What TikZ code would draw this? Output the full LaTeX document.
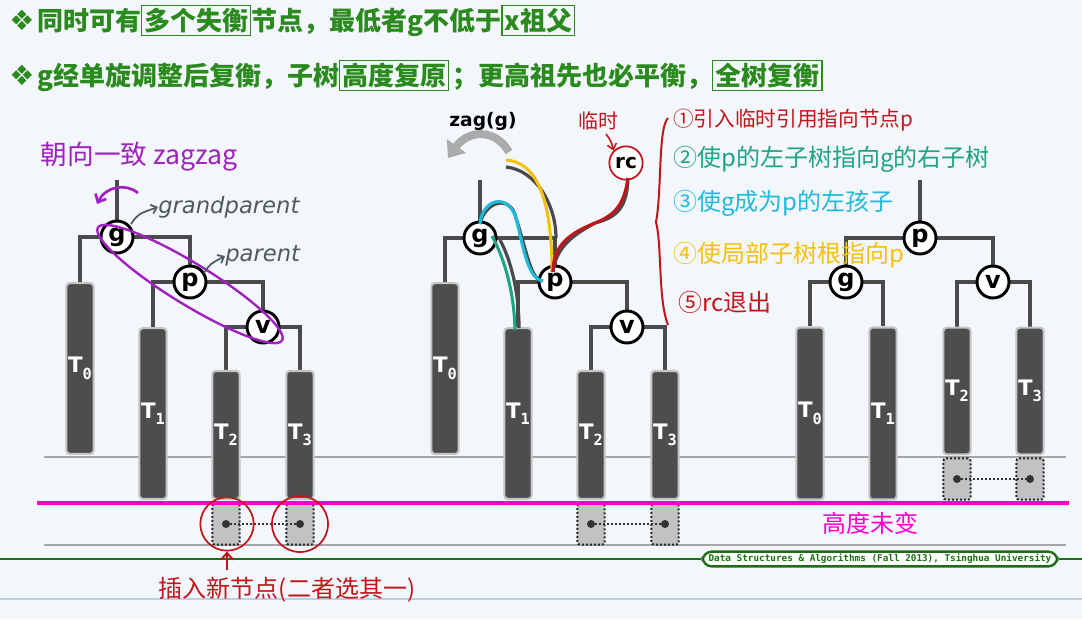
\documentclass[tikz,border=0pt]{standalone}
\usepackage{fontspec}
\setmainfont{DejaVu Sans}
\setsansfont{DejaVu Sans}
\setmonofont{DejaVu Sans Mono}
\newfontfamily\cjk{Noto Sans CJK SC}
\newfontfamily\dv{DejaVu Sans}
\usetikzlibrary{arrows.meta,shapes.geometric}
\definecolor{bgc}{HTML}{F3F7FB}
\definecolor{tgreen}{HTML}{2B8A1E}
\definecolor{fgreen}{HTML}{1D6E14}
\definecolor{colf}{HTML}{4D4D4D}
\definecolor{colb}{HTML}{C4C4C4}
\definecolor{linec}{HTML}{4A4A4A}
\definecolor{glc}{HTML}{A6A6A6}
\definecolor{mag}{HTML}{FF00CC}
\definecolor{hred}{HTML}{C0161B}
\definecolor{hteal}{HTML}{1FA383}
\definecolor{hcyan}{HTML}{1FB9DA}
\definecolor{hyel}{HTML}{F4C10E}
\definecolor{hpur}{HTML}{A020C0}
\definecolor{hgray}{HTML}{4F5B5B}
\definecolor{insf}{HTML}{C2C2C2}
\definecolor{zagc}{HTML}{ABABAB}
\definecolor{lblue}{HTML}{BFD0E2}
\newcommand\gb[1]{{\fboxsep=1.5pt\fboxrule=0.9pt\fbox{#1}}}
\newcommand\Tl[1]{T\raisebox{-0.55ex}{\ttfamily\bfseries\fontsize{11.5}{11.5}\selectfont #1}}
\pgfdeclarelayer{back}
\pgfdeclarelayer{bg}
\pgfsetlayers{back,bg,main}
\begin{document}
\begin{tikzpicture}[x=0.75pt,y=-0.75pt,
  tl/.style={draw=linec, line width=2.6pt},
  gline/.style={draw=glc, line width=2pt},
  col/.style={rectangle, rounded corners=2.5pt, fill=colf, draw=colb, line width=1.6pt,
    minimum width=20.5pt, inner sep=0pt, text=white, font=\sffamily\bfseries\fontsize{16}{16}\selectfont},
  vx/.style={circle, draw=black, line width=2.2pt, fill=white, minimum size=24pt, inner sep=0pt,
    font=\sffamily\bfseries\fontsize{18}{18}\selectfont},
  insb/.style={rectangle, draw=black!85, line width=1.4pt, dash pattern=on 1.5pt off 1.5pt,
    fill=insf, rounded corners=2pt, minimum width=20.5pt, minimum height=31pt, inner sep=0pt},
  dotn/.style={circle, fill=black!80, minimum size=6pt, inner sep=0pt},
  dl/.style={draw=black!80, line width=1.4pt, dash pattern=on 1.5pt off 1.5pt},
  hw/.style={font=\cjk\fontsize{18}{20}\selectfont, inner sep=0pt, anchor=west},
  shadowc/.style={draw=linec, line width=2.4pt},
  curv/.style={line width=2.3pt}
]
\begin{pgfonlayer}{back}
\fill[bgc] (0,0) rectangle (1082,619);
\end{pgfonlayer}
\useasboundingbox (0,0) rectangle (1082,619);

% titles
\node[anchor=west, text=tgreen, font=\cjk\bfseries\fontsize{19.5}{22}\selectfont, inner sep=0pt] (t1) at (9,21)
  {{\dv\fontsize{21}{21}\selectfont ❖}\hspace{2pt}同时可有\gb{多个失衡}节点，最低者g不低于\gb{x祖父}};
\node[anchor=west, text=tgreen, font=\cjk\bfseries\fontsize{19.5}{22}\selectfont, inner sep=0pt] (t2) at (9,76)
  {{\dv\fontsize{21}{21}\selectfont ❖}\hspace{2pt}g经单旋调整后复衡，子树\gb{高度复原}\hspace{2pt}；更高祖先也必平衡，\gb{全树复衡}};

% horizontal reference lines
\begin{pgfonlayer}{bg}
\draw[gline] (44,457) -- (1066,457);
\draw[gline] (44,545) -- (1066,545);
\draw[lblue, line width=0.8pt] (0,599) -- (1082,599);
\end{pgfonlayer}

% ---------- left tree ----------
\node[col, minimum height=128pt] (T0a) at (80,368.5) {\Tl{0}};
\node[col, minimum height=128pt] (T1a) at (153,413.5) {\Tl{1}};
\node[col, minimum height=96pt] (T2a) at (226,435) {\Tl{2}};
\node[col, minimum height=96pt] (T3a) at (300,435) {\Tl{3}};
\node[vx] (g1) at (117,237) {g};
\node[vx] (p1) at (190,282) {p};
\node[vx] (v1) at (263,327) {v};
\coordinate (r1) at (117,180);
\begin{pgfonlayer}{bg}
\draw[tl] (r1) -- (g1.center);
\draw[tl] (T0a.north) |- (g1.center) -| (p1.center);
\draw[tl] (T1a.north) |- (p1.center) -| (v1.center);
\draw[tl] (T2a.north) |- (v1.center) -| (T3a.north);
\end{pgfonlayer}
\node[insb] (I2a) at (226,524) {};
\node[insb] (I3a) at (300,524) {};
\node[dotn] (d2a) at (I2a.center) {};
\node[dotn] (d3a) at (I3a.center) {};
\draw[dl] (d2a) -- (d3a);

% ---------- middle tree ----------
\node[col, minimum height=128pt] (T0b) at (445,368.5) {\Tl{0}};
\node[col, minimum height=128pt] (T1b) at (518,413.5) {\Tl{1}};
\node[col, minimum height=96pt] (T2b) at (591,435) {\Tl{2}};
\node[col, minimum height=96pt] (T3b) at (665,435) {\Tl{3}};
\node[vx] (g2) at (480,238) {g};
\node[vx] (p2) at (555,282) {p};
\node[vx] (v2) at (627,327) {v};
\coordinate (r2) at (480,180);
\begin{pgfonlayer}{bg}
\draw[tl] (r2) -- (g2.center);
\draw[tl] (T0b.north) |- (g2.center) -| (p2.center);
\draw[tl] (T1b.north) |- (p2.center) -| (v2.center);
\draw[tl] (T2b.north) |- (v2.center) -| (T3b.north);
\end{pgfonlayer}
\node[insb] (I2b) at (591,524) {};
\node[insb] (I3b) at (665,524) {};
\node[dotn] (d2b) at (I2b.center) {};
\node[dotn] (d3b) at (I3b.center) {};
\draw[dl] (d2b) -- (d3b);

% ---------- right tree ----------
\node[col, minimum height=129pt] (T0c) at (810,413.5) {\Tl{0}};
\node[col, minimum height=129pt] (T1c) at (883,413.5) {\Tl{1}};
\node[col, minimum height=95pt] (T2c) at (957,391) {\Tl{2}};
\node[col, minimum height=95pt] (T3c) at (1030,391) {\Tl{3}};
\node[vx] (p3) at (920,238) {p};
\node[vx] (g3) at (846,282) {g};
\node[vx] (v3) at (993,282) {v};
\coordinate (r3) at (920,180);
\begin{pgfonlayer}{bg}
\draw[tl] (r3) -- (p3.center);
\draw[tl] (g3.center) |- (p3.center) -| (v3.center);
\draw[tl] (T0c.north) |- (g3.center) -| (T1c.north);
\draw[tl] (T2c.north) |- (v3.center) -| (T3c.north);
\end{pgfonlayer}
\node[insb] (I2c) at (957,479) {};
\node[insb] (I3c) at (1030,479) {};
\node[dotn] (d2c) at (I2c.center) {};
\node[dotn] (d3c) at (I3c.center) {};
\draw[dl] (d2c) -- (d3c);

% magenta height line
\draw[mag, line width=3pt] (37,503) -- (1069,503);
\node[text=mag, font=\cjk\fontsize{18}{20}\selectfont, inner sep=0pt] (hw6) at (870,523) {高度未变};

% footer
\node[draw=fgreen, fill=white, rounded corners=7pt, line width=1.8pt, inner xsep=4.5pt, inner ysep=2pt,
  text=fgreen, font=\ttfamily\bfseries\fontsize{7}{8}\selectfont] (foot) at (880,559)
  {Data Structures \& Algorithms (Fall 2013), Tsinghua University};
\coordinate (fl) at (0,559);
\coordinate (fr) at (1082,559);
\draw[fgreen, line width=1.8pt] (fl) -- (foot.west);
\draw[fgreen, line width=1.8pt] (foot.east) -- (fr);

% ---------- left annotations ----------
\node[text=hpur, font=\cjk\fontsize{20}{22}\selectfont, inner sep=0pt] (zz) at (139,157) {朝向一致 zagzag};
\coordinate (pa1) at (138,193);
\coordinate (pa2) at (97,204);
\draw[hpur, line width=2pt, -{Straight Barb[length=5pt,width=9pt]}] (pa1) .. controls (126,183) and (106,186) .. (pa2);
\node[draw=hpur, line width=1.8pt, ellipse, minimum width=162pt, minimum height=31pt, rotate=-31.5] (loop) at (190,284) {};
\node[text=hgray, font=\sffamily\itshape\fontsize{17}{19}\selectfont, inner sep=0pt, anchor=west] (gpt) at (158,207) {grandparent};
\node[text=hgray, font=\sffamily\itshape\fontsize{17}{19}\selectfont, inner sep=0pt, anchor=west] (pt) at (225,256) {parent};
\coordinate (ga) at (131,224);
\draw[hgray, line width=1.3pt, -{Straight Barb[length=4pt,width=7pt]}] (ga) .. controls (138,214) .. (gpt.west);
\coordinate (pa) at (204,273);
\draw[hgray, line width=1.3pt, -{Straight Barb[length=4pt,width=7pt]}] (pa) .. controls (210,264) .. (pt.west);

% bottom left red annotations
\node[draw=hred, line width=1.3pt, circle, minimum size=40pt, inner sep=0pt] (c2) at (227,524) {};
\node[draw=hred, line width=1.3pt, circle, minimum size=42pt, inner sep=0pt] (c3) at (300,524) {};
\node[text=hred, font=\cjk\fontsize{18}{20}\selectfont, inner sep=0pt] (ins) at (287,590) {插入新节点(二者选其一)};
\coordinate (ia) at (227,570);
\draw[hred, line width=1.5pt, -{Straight Barb[length=5pt,width=9pt]}] (ia) -- (c2.south);

% ---------- middle annotations ----------
\node[font=\sffamily\bfseries\fontsize{14}{16}\selectfont, inner sep=0pt] (zag) at (483,121) {zag(g)};
\coordinate (za1) at (509,152);
\coordinate (za2) at (448,158);
\draw[zagc, line width=6pt, -{Triangle[length=11pt,width=17pt]}] (za1) .. controls (495,128) and (468,130) .. (za2);

\node[draw=hred, line width=1.3pt, circle, fill=white, minimum size=25pt, inner sep=0pt,
  font=\sffamily\bfseries\fontsize{15}{16}\selectfont] (rc) at (626,163) {rc};
\node[text=hred, font=\cjk\fontsize{15}{17}\selectfont, inner sep=0pt] (ls) at (598,121) {临时};
\coordinate (la) at (606,134);
\draw[hred, line width=1.2pt, -{Straight Barb[length=4pt,width=7pt]}] (la) .. controls (611,141) .. (rc.north west);

% yellow: new parent pointer
\coordinate (ys) at (506,160);
\coordinate (ye) at (552,272);
\draw[shadowc] (506,167) .. controls (536,170) and (556,205) .. (556,238);
\draw[hyel, curv] (ys) .. controls (535,162) and (552,195) .. (ye);
% cyan: g becomes left child of p
\coordinate (cs) at (480,224);
\coordinate (cm) at (516,218);
\coordinate (ce) at (543,281);
\draw[shadowc, shift={(3,2)}] (cs) .. controls (482,199) and (508,192) .. (cm) .. controls (524,250) and (528,279) .. (ce);
\draw[hcyan, curv] (cs) .. controls (482,199) and (508,192) .. (cm) .. controls (524,250) and (528,279) .. (ce);
% teal: p's left subtree to g's right
\coordinate (ts) at (492,236);
\coordinate (te) at (515,330);
\draw[shadowc] (500,240) .. controls (512,262) and (519,295) .. (519,328);
\draw[hteal, curv] (ts) .. controls (504,258) and (514,290) .. (te);
% red: rc to p
\coordinate (rs) at (628,178);
\coordinate (rm) at (595,223);
\coordinate (re) at (553,272);
\draw[shadowc, shift={(3,2)}] (rs) .. controls (624,205) and (615,215) .. (rm) .. controls (570,233) and (553,245) .. (re);
\draw[hred, curv] (rs) .. controls (624,205) and (615,215) .. (rm) .. controls (570,233) and (553,245) .. (re);

% red brace
\coordinate (b1) at (668,118);
\coordinate (b2) at (656,222);
\coordinate (b3) at (668,325);
\draw[hred, line width=1.5pt] (b1) .. controls (658,128) and (662,190) .. (b2) .. controls (662,245) and (658,300) .. (b3);

% steps
\node[hw, text=hred, font=\cjk\fontsize{15.5}{18}\selectfont] (s1) at (673,120) {①引入临时引用指向节点p};
\node[hw, text=hteal] (s2) at (673,159) {②使p的左子树指向g的右子树};
\node[hw, text=hcyan] (s3) at (673,203) {③使g成为p的左孩子};
\node[hw, text=hyel] (s4) at (673,255) {④使局部子树根指向p};
\node[hw, text=hred] (s5) at (678,302) {⑤rc退出};
\end{tikzpicture}
\end{document}
